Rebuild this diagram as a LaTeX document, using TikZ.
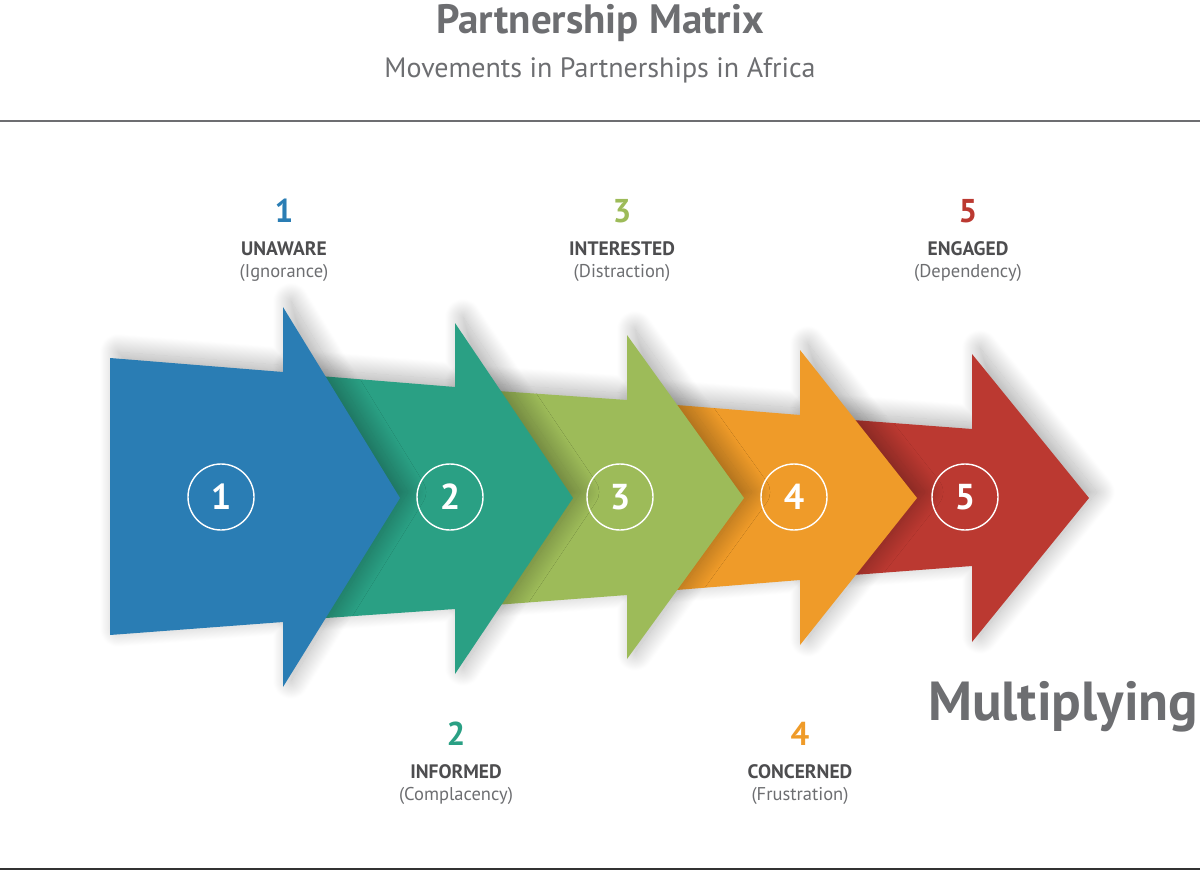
\documentclass[tikz,border=0pt]{standalone}
\usepackage{fontspec}
\setmainfont{PT Sans}
\usepackage{tikz}
\usetikzlibrary{shadows.blur}
\definecolor{arr1}{HTML}{2A7DB4}
\definecolor{arr2}{HTML}{2AA084}
\definecolor{arr3}{HTML}{9DBB59}
\definecolor{arr4}{HTML}{EF9B29}
\definecolor{arr5}{HTML}{BB3931}
\definecolor{txtgray}{HTML}{6D6E71}
\definecolor{darkgray}{HTML}{4D4D4F}
\tikzset{
  arrshadow/.style = {blur shadow={shadow xshift=8pt, shadow yshift=6pt,
      shadow blur radius=18pt, shadow blur steps=40, shadow opacity=32}},
  numcirc/.style = {circle, draw=white, line width=1.4pt, minimum size=66pt,
      inner sep=0pt, text=white, font=\bfseries\fontsize{36}{36}\selectfont},
  stepnum/.style = {anchor=base, font=\bfseries\fontsize{33}{33}\selectfont},
  steptitle/.style = {anchor=base, text=darkgray, font=\bfseries\fontsize{19.5}{19.5}\selectfont},
  stepsub/.style = {anchor=base, text=txtgray, font=\fontsize{18.5}{18.5}\selectfont}
}

\begin{document}
\begin{tikzpicture}[x=1pt, y=-1pt]
  \useasboundingbox (0,0) rectangle (1200,870);

  \node[anchor=base, text=txtgray, font=\bfseries\fontsize{41}{41}\selectfont] (title) at (600,34) {Partnership Matrix};
  \node[anchor=base, text=txtgray, font=\fontsize{28}{28}\selectfont] (subtitle) at (600,77) {Movements in Partnerships in Africa};
  \draw[txtgray, line width=1.5pt] (0,121) -- (1200,121);
  \draw[black!80, line width=2pt] (0,869) -- (1200,869);

  \foreach \i/\px/\sa/\sb/\nx/\ta/\tb/\ha/\hb/\tip in {
      5/800/416/579/972/429/566/354/642/1089,
      4/627/401/594/800/415/580/350/645/917,
      3/455/388/608/627/400/595/335/659/744,
      2/283/373/621/455/387/609/323/674/573,
      1/110/358/635/283/372/622/307/687/400}
    \fill[arr\i, arrshadow] (\px,\sa) -- (\nx,\ta) -- (\nx,\ha) -- (\tip,498)
      -- (\nx,\hb) -- (\nx,\tb) -- (\px,\sb) -- cycle;

  \foreach \i/\x in {1/221, 2/450, 3/620, 4/794, 5/965}
    \node[numcirc] (circ\i) at (\x,497) {\i};

  \foreach \i/\x/\y/\ttl/\sub in {1/284/222/UNAWARE/Ignorance,
      2/456/745/INFORMED/Complacency, 3/622/222/INTERESTED/Distraction,
      4/800/745/CONCERNED/Frustration, 5/968/222/ENGAGED/Dependency}
  {
    \node[stepnum, text=arr\i] (num\i) at (\x,\y) {\i};
    \node[steptitle] (ttl\i) at (\x,\y+33) {\ttl};
    \node[stepsub] (sub\i) at (\x,\y+55) {(\sub)};
  }

  \node[anchor=base west, inner sep=0pt, text=txtgray, font=\bfseries\fontsize{55}{55}\selectfont] (mult) at (928,720) {Multiplying};
\end{tikzpicture}
\end{document}
